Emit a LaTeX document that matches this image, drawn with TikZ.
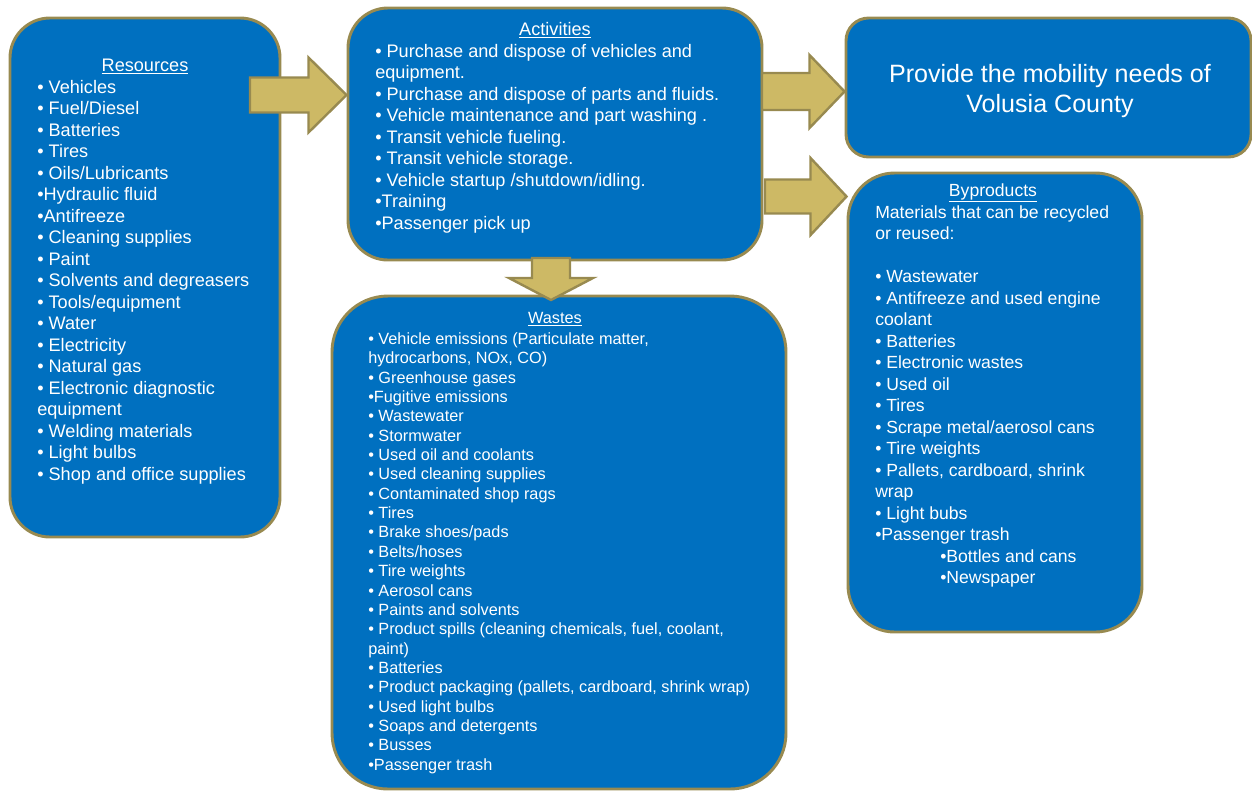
\documentclass[tikz,border=0pt]{standalone}
\usepackage{fontspec}
\setmainfont{Liberation Sans}
\usetikzlibrary{calc}
\definecolor{boxblue}{HTML}{0070C0}
\definecolor{olive}{HTML}{988A50}
\definecolor{khaki}{HTML}{CDB965}
\newcommand\bodyfont{\fontsize{13.6pt}{16.125pt}\selectfont}
\newcommand\bypfont{\fontsize{13.2pt}{16.125pt}\selectfont}
\newcommand\wastefont{\fontsize{12.2pt}{14.51pt}\selectfont}
\newcommand\rarrow[5]{\draw[blockarrow] let \p1=(#1), \p2=(#2) in
  (\x1,\y1+#3) -- (\x2-#5,\y1+#3) -- (\x2-#5,\y1+#4) -- (\x2,\y1) --
  (\x2-#5,\y1-#4) -- (\x2-#5,\y1-#3) -- (\x1,\y1-#3) -- cycle;}
\newcommand\darrow[5]{\draw[blockarrow] let \p1=(#1), \p2=(#2) in
  (\x1+#3,\y1) -- (\x1+#3,\y2+#5) -- (\x1+#4,\y2+#5) -- (\x1,\y2) --
  (\x1-#4,\y2+#5) -- (\x1-#3,\y2+#5) -- (\x1-#3,\y1) -- cycle;}
\begin{document}
\begin{tikzpicture}[x=0.75pt,y=-0.75pt,
  box/.style={draw=olive, line width=2.2pt, fill=boxblue, inner sep=0pt},
  blockarrow/.style={draw=olive, line width=1.8pt, fill=khaki, line join=miter},
  txt/.style={text=white, inner sep=0pt}]
\useasboundingbox (0,0) rectangle (1252,790);
% boxes
\node[box, rounded corners=30pt, minimum width=202.5pt, minimum height=389.25pt] (res) at (145,277.5) {};
\node[box, rounded corners=30pt, minimum width=310.5pt, minimum height=189pt] (act) at (555,134) {};
\node[box, rounded corners=17pt, minimum width=303.75pt, minimum height=104.25pt] (prov) at (1048.5,87.5) {};
\node[box, rounded corners=35pt, minimum width=220.5pt, minimum height=344.25pt] (byp) at (995,402.5) {};
\node[box, rounded corners=42pt, minimum width=340.5pt, minimum height=369.75pt] (was) at (559,542.5) {};
% arrows
\coordinate (a1s) at (250,95);
\coordinate (a2s) at (762,91.5);
\coordinate (a3s) at (765,196.5);
\coordinate (a4s) at (551,258);
\coordinate (a4e) at (551,300);
\rarrow{a1s}{act.west |- a1s}{13.1pt}{28.1pt}{28.5pt}
\rarrow{a2s}{prov.west |- a2s}{13.9pt}{27.4pt}{26.3pt}
\rarrow{a3s}{byp.west |- a3s}{12.75pt}{28.9pt}{27pt}
\darrow{a4s}{a4e}{14.25pt}{31.5pt}{16.5pt}
% Resources
\node[txt, anchor=base] (rest) at (145,71.5) {\bodyfont\underline{Resources}};
\node[txt, anchor=base west] (resl) at (37,93) {\parbox[t]{200pt}{\bodyfont\raggedright
• Vehicles\\
• Fuel/Diesel\\
• Batteries\\
• Tires\\
• Oils/Lubricants\\
•Hydraulic fluid\\
•Antifreeze\\
• Cleaning supplies\\
• Paint\\
• Solvents and degreasers\\
• Tools/equipment\\
• Water\\
• Electricity\\
• Natural gas\\
• Electronic diagnostic\\
equipment\\
• Welding materials\\
• Light bulbs\\
• Shop and office supplies}};
% Activities
\node[txt, anchor=base] (actt) at (555,35) {\bodyfont\underline{Activities}};
\node[txt, anchor=base west] (actl) at (375,57) {\parbox[t]{300pt}{\bodyfont\raggedright
• Purchase and dispose of vehicles and\\
equipment.\\
• Purchase and dispose of parts and fluids.\\
• Vehicle maintenance and part washing .\\
• Transit vehicle fueling.\\
• Transit vehicle storage.\\
• Vehicle startup /shutdown/idling.\\
•Training\\
•Passenger pick up}};
% Provide
\node[txt, anchor=base] (provt) at (1050,82) {\parbox[t]{300pt}{\fontsize{18.8pt}{22.5pt}\selectfont\centering
Provide the mobility needs of\\Volusia County}};
% Byproducts
\node[txt, anchor=base] (bypt) at (993,196) {\bypfont\underline{Byproducts}};
\node[txt, anchor=base west] (bypl) at (875,218) {\parbox[t]{200pt}{\bypfont\raggedright
Materials that can be recycled\\
or reused:\\
\mbox{}\\
• Wastewater\\
• Antifreeze and used engine\\
coolant\\
• Batteries\\
• Electronic wastes\\
• Used oil\\
• Tires\\
• Scrape metal/aerosol cans\\
• Tire weights\\
• Pallets, cardboard, shrink\\
wrap\\
• Light bubs\\
•Passenger trash\\
\hspace*{48.75pt}•Bottles and cans\\
\hspace*{48.75pt}•Newspaper}};
% Wastes
\node[txt, anchor=base] (wast) at (555,323.5) {\wastefont\underline{Wastes}};
\node[txt, anchor=base west] (wasl) at (368,344.5) {\parbox[t]{320pt}{\wastefont\raggedright
• Vehicle emissions (Particulate matter,\\
hydrocarbons, NOx, CO)\\
• Greenhouse gases\\
•Fugitive emissions\\
• Wastewater\\
• Stormwater\\
• Used oil and coolants\\
• Used cleaning supplies\\
• Contaminated shop rags\\
• Tires\\
• Brake shoes/pads\\
• Belts/hoses\\
• Tire weights\\
• Aerosol cans\\
• Paints and solvents\\
• Product spills (cleaning chemicals, fuel, coolant,\\
paint)\\
• Batteries\\
• Product packaging (pallets, cardboard, shrink wrap)\\
• Used light bulbs\\
• Soaps and detergents\\
• Busses\\
•Passenger trash}};
\end{tikzpicture}
\end{document}
